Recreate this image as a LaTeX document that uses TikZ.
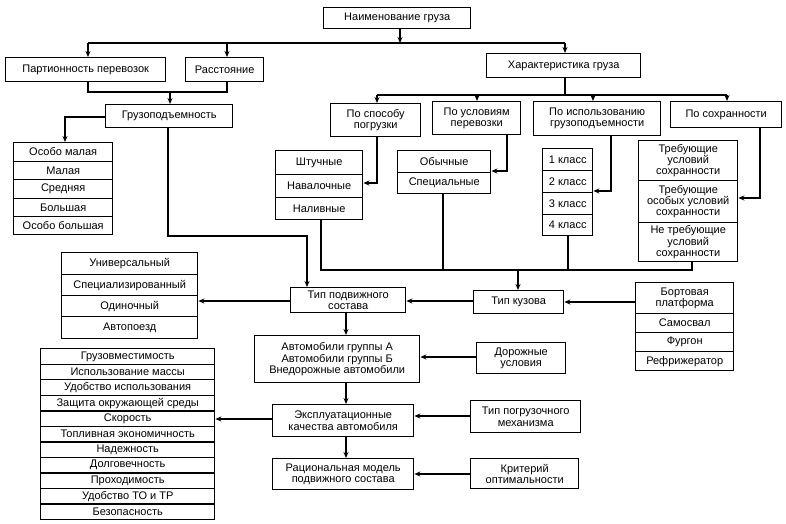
\documentclass[tikz,border=0pt]{standalone}
\usepackage{fontspec}
\setmainfont{Liberation Sans}
\usetikzlibrary{arrows.meta}
\newcommand\fs{\fontsize{11}{11.3}\selectfont}
\newcommand\mybox[6]{\node[box, minimum width={#4pt-#2pt}, minimum height={#5pt-#3pt}, anchor=north west] (#1) at (#2,#3) {#6};}
\tikzset{
  box/.style={draw, line width=1.4pt, inner sep=0.3pt, align=center, font=\fs},
  ln/.style={line width=1.2pt},
  arr/.style={ln, -{Stealth[length=6pt,width=5pt]}},
}
\begin{document}
\begin{tikzpicture}[x=1pt,y=-1pt]
\useasboundingbox (0,0) rectangle (786,524);
% top level
\mybox{title}{323}{7}{470}{28}{Наименование груза}
\mybox{part}{5}{57}{165}{81}{Партионность перевозок}
\mybox{rast}{185}{57}{263}{81}{Расстояние}
\mybox{gruz}{105}{104}{232}{127}{Грузоподъемность}
\mybox{har}{486}{53}{640}{77}{Характеристика груза}
\mybox{sp}{330}{103}{420}{136}{По способу\\погрузки}
\mybox{usl}{432}{101}{520}{134}{По условиям\\перевозки}
\mybox{isp}{533}{101}{660}{135}{По использованию\\грузоподъемности}
\mybox{soh}{670}{101}{781}{127}{По сохранности}
% lists
\mybox{om1}{13}{142}{112}{160.5}{Особо малая}
\mybox{om2}{13}{160.5}{112}{179}{Малая}
\mybox{om3}{13}{179}{112}{197.5}{Средняя}
\mybox{om4}{13}{197.5}{112}{216}{Большая}
\mybox{om5}{13}{216}{112}{234}{Особо большая}
\mybox{sh1}{275}{150}{362}{174}{Штучные}
\mybox{sh2}{275}{174}{362}{197}{Навалочные}
\mybox{sh3}{275}{197}{362}{219}{Наливные}
\mybox{ob1}{397}{150}{490}{172}{Обычные}
\mybox{ob2}{397}{172}{490}{193}{Специальные}
\mybox{kl1}{542}{148}{592}{170}{1 класс}
\mybox{kl2}{542}{170}{592}{192}{2 класс}
\mybox{kl3}{542}{192}{592}{214}{3 класс}
\mybox{kl4}{542}{214}{592}{235}{4 класс}
\mybox{tr1}{638}{140}{737}{180}{Требующие\\условий\\сохранности}
\mybox{tr2}{638}{180}{737}{222}{Требующие\\особых условий\\сохранности}
\mybox{tr3}{638}{222}{737}{261}{Не требующие\\условий\\сохранности}
\mybox{un1}{61}{252}{197}{274}{Универсальный}
\mybox{un2}{61}{274}{197}{295}{Специализированный}
\mybox{un3}{61}{295}{197}{316}{Одиночный}
\mybox{un4}{61}{316}{197}{338}{Автопоезд}
\mybox{tps}{290}{287}{405}{312}{Тип подвижного\\состава}
\mybox{tk}{473}{290}{563}{313}{Тип кузова}
\mybox{bo1}{635}{282}{733}{313}{Бортовая\\платформа}
\mybox{bo2}{635}{313}{733}{332}{Самосвал}
\mybox{bo3}{635}{332}{733}{351}{Фургон}
\mybox{bo4}{635}{351}{733}{370}{Рефрижератор}
\mybox{avt}{254}{335}{419}{382}{Автомобили группы А\\Автомобили группы Б\\Внедорожные автомобили}
\mybox{dor}{476}{342}{565}{373}{Дорожные\\условия}
\mybox{eks}{272}{404}{413}{436}{Эксплуатационные\\качества автомобиля}
\mybox{tpm}{470}{400}{580}{432}{Тип погрузочного\\механизма}
\mybox{rat}{272}{458}{413}{489}{Рациональная модель\\подвижного состава}
\mybox{krit}{470}{458}{578}{488}{Критерий\\оптимальности}
\foreach \t [count=\i from 0] in {Грузовместимость,Использование массы,Удобство использования,Защита окружающей среды,Скорость,Топливная экономичность,Надежность,Долговечность,Проходимость,Удобство ТО и ТР,Безопасность}
  \node[box, minimum width=174pt, minimum height=15.545pt, anchor=north west] (g\i) at (40,{348+\i*15.545}) {\t};
% junction coordinates
\coordinate (t1) at (400,43);
\coordinate (a1) at (88,43);
\coordinate (a2) at (227,43);
\coordinate (a3) at (565,43);
\coordinate (b1) at (88,92);
\coordinate (b2) at (227,92);
\coordinate (b3) at (170,92);
\coordinate (c1) at (65,117);
\coordinate (d1) at (168,236);
\coordinate (d2) at (307,236);
\coordinate (e0) at (565,95);
\coordinate (e1) at (377,95);
\coordinate (e2) at (477,95);
\coordinate (e3) at (593,95);
\coordinate (e4) at (727,95);
\coordinate (f1) at (377,183);
\coordinate (f2) at (507,171);
\coordinate (f3) at (611,191);
\coordinate (f4) at (760,198);
\coordinate (h1) at (321,270);
\coordinate (h2) at (443,270);
\coordinate (h3) at (568,270);
\coordinate (h4) at (692,270);
\coordinate (h5) at (518,270);
\coordinate (k1) at (300,301);
\coordinate (k2) at (600,302);
\coordinate (m1) at (346,350);
\coordinate (n1) at (450,357);
\coordinate (n2) at (440,416);
\coordinate (n3) at (440,474);
\coordinate (n4) at (240,419);
% connectors
\draw[arr] (title.south -| t1) -- (t1);
\draw[ln] (a1) -- (a3);
\draw[arr] (a1) -- (a1 |- part.north);
\draw[arr] (a2) -- (a2 |- rast.north);
\draw[arr] (a3) -- (a3 |- har.north);
\draw[ln] (b1 |- part.south) -- (b1) -- (b2) -- (b2 |- rast.south);
\draw[arr] (b3) -- (b3 |- gruz.north);
\draw[arr] (c1 -| gruz.west) -- (c1) -- (c1 |- om1.north);
\draw[arr] (d1 |- gruz.south) -- (d1) -- (d2) -- (d2 |- tps.north);
\draw[ln] (e0 |- har.south) -- (e0);
\draw[ln] (e1) -- (e4);
\draw[arr] (e1) -- (e1 |- sp.north);
\draw[arr] (e2) -- (e2 |- usl.north);
\draw[arr] (e3) -- (e3 |- isp.north);
\draw[arr] (e4) -- (e4 |- soh.north);
\draw[arr] (f1 |- sp.south) -- (f1) -- (f1 -| sh2.east);
\draw[arr] (f2 |- usl.south) -- (f2) -- (f2 -| ob1.east);
\draw[arr] (f3 |- isp.south) -- (f3) -- (f3 -| kl2.east);
\draw[arr] (f4 |- soh.south) -- (f4) -- (f4 -| tr2.east);
\draw[ln] (h1 |- sh3.south) -- (h1) -- (h4) -- (h4 |- tr3.south);
\draw[ln] (h2 |- ob2.south) -- (h2);
\draw[ln] (h3 |- kl4.south) -- (h3);
\draw[arr] (h5) -- (h5 |- tk.north);
\draw[arr] (k1 -| tps.west) -- (k1 -| un1.east);
\draw[arr] (k1 -| tk.west) -- (k1 -| tps.east);
\draw[arr] (k2 -| bo1.west) -- (k2 -| tk.east);
\draw[arr] (m1 |- tps.south) -- (m1 |- avt.north);
\draw[arr] (m1 |- avt.south) -- (m1 |- eks.north);
\draw[arr] (m1 |- eks.south) -- (m1 |- rat.north);
\draw[arr] (n1 -| dor.west) -- (n1 -| avt.east);
\draw[arr] (n2 -| tpm.west) -- (n2 -| eks.east);
\draw[arr] (n3 -| krit.west) -- (n3 -| rat.east);
\draw[arr] (n4 -| eks.west) -- (n4 -| g0.east);
\end{tikzpicture}
\end{document}
